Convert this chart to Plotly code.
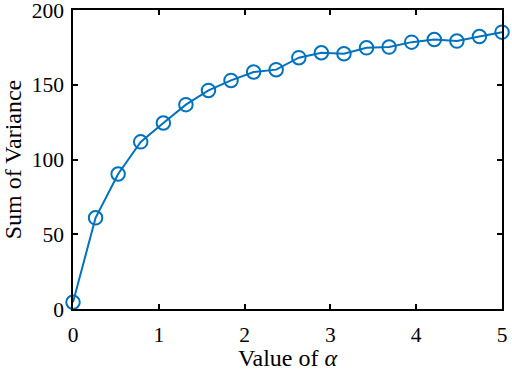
import plotly.graph_objects as go

alpha = [0.0, 0.263, 0.526, 0.789, 1.053, 1.316, 1.579, 1.842, 2.105, 2.368,
         2.632, 2.895, 3.158, 3.421, 3.684, 3.947, 4.211, 4.474, 4.737, 5.0]
variance_sum = [4.5, 61.0, 90.3, 111.8, 124.4, 136.7, 146.2, 152.9, 158.5, 160.1,
                168.1, 171.4, 170.7, 174.7, 175.2, 178.5, 180.3, 179.2, 182.3, 185.2]
x_ticks = [0, 1, 2, 3, 4, 5]
y_ticks = [0, 50, 100, 150, 200]

color = "#0072BD"
font_family = "Liberation Serif, Times New Roman, serif"
tick_size = 21.5
title_size = 24

fig = go.Figure()
fig.add_trace(go.Scatter(
    x=alpha, y=variance_sum, mode="lines+markers",
    line=dict(color=color, width=2),
    marker=dict(symbol="circle-open", size=13.5, color=color, line=dict(width=2, color=color)),
    cliponaxis=False, showlegend=False,
))

axis_common = dict(
    showgrid=False, zeroline=False, showline=True, linecolor="black", linewidth=1.5,
    mirror="ticks", ticks="inside", ticklen=5, tickwidth=1.5, tickcolor="black",
    tickfont=dict(family=font_family, size=tick_size, color="black"),
    ticklabeloverflow="allow", automargin=False,
)

fig.update_layout(
    width=512, height=371,
    margin=dict(l=73, r=10, t=10, b=62),
    paper_bgcolor="white", plot_bgcolor="white",
    font=dict(family=font_family, size=tick_size, color="black"),
    xaxis=dict(range=[0, 5], tickvals=x_ticks, ticklabelstandoff=5,
               title=dict(text="Value of <i>α</i>", font=dict(family=font_family, size=title_size), standoff=5),
               **axis_common),
    yaxis=dict(range=[0, 200], tickvals=y_ticks, ticklabelstandoff=3,
               title=dict(text="Sum of Variance", font=dict(family=font_family, size=title_size), standoff=14),
               **axis_common),
)

fig.write_html("out.html", config={"displayModeBar": False},
               post_script="document.body.style.margin='0';document.body.style.overflow='hidden';")
